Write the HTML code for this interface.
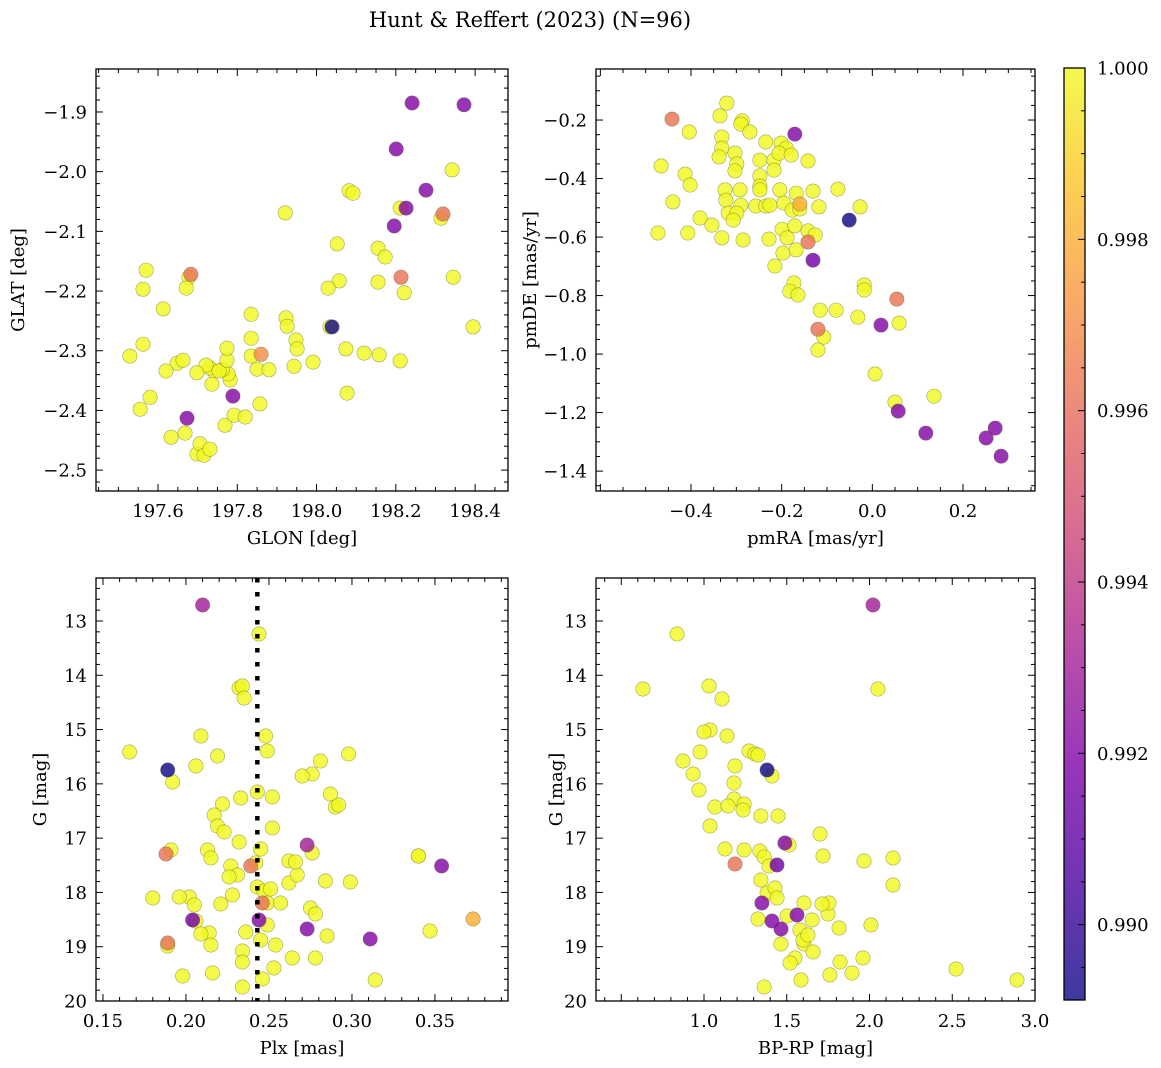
<!DOCTYPE html>
<html><head><meta charset="utf-8">
<style>
html,body{margin:0;padding:0;background:#fff;}
svg{display:block;font-family:"DejaVu Serif","Liberation Serif",serif;}
</style></head>
<body>
<svg id="fig" width="1161" height="1068" viewBox="0 0 1161 1068" xmlns="http://www.w3.org/2000/svg">
<defs>
<linearGradient id="plasma" x1="0" y1="1" x2="0" y2="0">
<stop offset="0" stop-color="#0d0887"/><stop offset="0.13" stop-color="#4c02a1"/><stop offset="0.25" stop-color="#7e03a8"/><stop offset="0.38" stop-color="#a92395"/><stop offset="0.5" stop-color="#cc4778"/><stop offset="0.63" stop-color="#e66c5c"/><stop offset="0.75" stop-color="#f89540"/><stop offset="0.88" stop-color="#fdc527"/><stop offset="1" stop-color="#f0f921"/>
</linearGradient>
</defs>
<text x="530" y="27" font-size="21" text-anchor="middle">Hunt &amp; Reffert (2023) (N=96)</text>
</svg>
<script>
// ---- data: panel 1 (GLON / GLAT) ----
const p1Glon=[198.241,198.372,198.201,198.342,198.276,198.082,198.092,198.226,198.211,198.319,198.314,198.196,198.052,197.921,198.345,198.213,198.155,198.173,198.221,198.057,198.029,198.155,198.395,198.074,198.120,198.158,198.211,198.034,198.039,198.077,197.991,197.948,197.951,197.943,197.923,197.926,197.570,197.562,197.683,197.678,197.671,197.613,197.562,197.529,197.580,197.555,197.673,197.668,197.633,197.698,197.706,197.716,197.731,197.769,197.792,197.820,197.857,197.789,197.782,197.777,197.762,197.741,197.731,197.721,197.698,197.648,197.663,197.620,197.736,197.754,197.774,197.774,197.835,197.835,197.835,197.860,197.850,197.880];
const p1Glat=[-1.885,-1.888,-1.962,-1.997,-2.031,-2.032,-2.036,-2.061,-2.061,-2.071,-2.078,-2.091,-2.121,-2.069,-2.177,-2.177,-2.128,-2.143,-2.203,-2.183,-2.195,-2.185,-2.260,-2.297,-2.304,-2.307,-2.317,-2.260,-2.260,-2.371,-2.319,-2.282,-2.297,-2.326,-2.245,-2.259,-2.165,-2.197,-2.172,-2.177,-2.195,-2.230,-2.289,-2.309,-2.378,-2.398,-2.413,-2.438,-2.445,-2.473,-2.456,-2.475,-2.465,-2.425,-2.408,-2.411,-2.389,-2.376,-2.349,-2.339,-2.332,-2.334,-2.329,-2.324,-2.337,-2.321,-2.316,-2.334,-2.356,-2.334,-2.316,-2.296,-2.279,-2.239,-2.309,-2.306,-2.331,-2.332];
const p1Prob=[0.992,0.992,0.992,1,0.992,1,1,0.992,1,0.9962,1,0.992,1,1,1,0.9962,1,1,1,1,1,1,1,1,1,1,1,1,0.9892,1,1,1,1,1,1,1,1,1,0.9962,1,1,1,1,1,1,1,0.992,1,1,1,1,1,1,1,1,1,1,0.992,1,1,1,1,1,1,1,1,1,1,1,1,1,1,1,1,1,0.997,1,1];
// ---- data: panel 2 (pmRA / pmDE) ----
const p2Pmra=[-0.442,-0.321,-0.336,-0.287,-0.290,-0.404,-0.332,-0.270,-0.332,-0.235,-0.201,-0.190,-0.171,-0.466,-0.413,-0.338,-0.303,-0.299,-0.303,-0.248,-0.217,-0.248,-0.217,-0.206,-0.179,-0.142,-0.402,-0.440,-0.325,-0.292,-0.248,-0.248,-0.204,-0.168,-0.131,-0.076,-0.323,-0.290,-0.257,-0.235,-0.226,-0.195,-0.177,-0.160,-0.160,-0.118,-0.027,-0.051,-0.318,-0.299,-0.380,-0.354,-0.307,-0.407,-0.473,-0.332,-0.285,-0.228,-0.199,-0.188,-0.171,-0.142,-0.142,-0.126,-0.197,-0.215,-0.168,-0.131,-0.173,-0.182,-0.164,-0.115,-0.080,-0.032,-0.018,-0.018,0.054,0.019,0.059,-0.120,-0.107,-0.120,0.006,0.050,0.136,0.057,0.118,0.251,0.271,0.284];
const p2Pmde=[-0.197,-0.142,-0.186,-0.203,-0.214,-0.241,-0.258,-0.241,-0.296,-0.275,-0.279,-0.296,-0.248,-0.357,-0.385,-0.326,-0.313,-0.350,-0.374,-0.337,-0.337,-0.391,-0.371,-0.313,-0.320,-0.340,-0.422,-0.480,-0.439,-0.439,-0.426,-0.439,-0.439,-0.450,-0.443,-0.436,-0.474,-0.491,-0.494,-0.494,-0.491,-0.484,-0.508,-0.487,-0.504,-0.497,-0.497,-0.542,-0.518,-0.518,-0.535,-0.559,-0.542,-0.586,-0.586,-0.603,-0.610,-0.607,-0.573,-0.603,-0.562,-0.579,-0.617,-0.593,-0.655,-0.699,-0.644,-0.679,-0.757,-0.785,-0.798,-0.850,-0.850,-0.874,-0.764,-0.781,-0.812,-0.901,-0.894,-0.915,-0.942,-0.986,-1.068,-1.164,-1.144,-1.195,-1.270,-1.287,-1.253,-1.349];
const p2Prob=[0.9962,1,1,1,1,1,1,1,1,1,1,1,0.992,1,1,1,1,1,1,1,1,1,1,1,1,1,1,1,1,1,1,1,1,1,1,1,1,1,1,1,1,1,1,0.998,1,1,1,0.9892,1,1,1,1,1,1,1,1,1,1,1,1,1,1,0.9962,1,1,1,1,0.9915,1,1,1,1,1,1,1,1,0.9962,0.992,1,0.9962,1,1,1,1,1,0.992,0.992,0.992,0.992,0.992];
// ---- data: panel 3 (Plx / G) ----
const p3Plx=[0.210,0.244,0.232,0.234,0.235,0.166,0.209,0.206,0.189,0.192,0.219,0.248,0.249,0.298,0.281,0.276,0.270,0.233,0.222,0.217,0.219,0.243,0.252,0.287,0.290,0.292,0.340,0.223,0.232,0.252,0.213,0.215,0.188,0.191,0.245,0.242,0.227,0.231,0.239,0.262,0.273,0.276,0.262,0.284,0.299,0.340,0.354,0.226,0.228,0.221,0.243,0.247,0.246,0.249,0.267,0.266,0.275,0.202,0.196,0.180,0.205,0.251,0.257,0.249,0.244,0.206,0.204,0.278,0.273,0.311,0.373,0.347,0.214,0.215,0.189,0.189,0.209,0.236,0.254,0.245,0.234,0.234,0.253,0.278,0.264,0.285,0.198,0.216,0.314,0.234,0.246];
const p3G=[12.705,13.239,14.234,14.197,14.418,15.413,15.118,15.671,15.745,15.966,15.487,15.118,15.395,15.450,15.579,15.818,15.855,16.260,16.371,16.573,16.776,16.150,16.242,16.187,16.426,16.389,17.329,16.887,17.071,16.813,17.218,17.366,17.292,17.218,17.200,17.458,17.513,17.679,17.513,17.421,17.126,17.273,17.826,17.789,17.808,17.329,17.513,17.716,18.047,18.213,17.900,17.973,18.194,18.194,17.679,17.440,18.287,18.084,18.084,18.102,18.231,17.937,18.194,18.600,18.508,18.526,18.508,18.397,18.673,18.858,18.489,18.710,18.747,18.968,18.986,18.931,18.766,18.729,18.968,18.876,19.079,19.281,19.392,19.207,19.207,18.802,19.539,19.484,19.613,19.742,19.595];
const p3Prob=[0.993,1,1,1,1,1,1,1,0.9892,1,1,1,1,1,1,1,1,1,1,1,1,1,1,1,1,1,1,1,1,1,1,1,0.9962,1,1,1,1,1,0.9962,1,0.993,1,1,1,1,1,0.992,1,1,1,1,1,0.9962,1,1,1,1,1,1,1,1,1,1,1,0.992,1,0.9915,1,0.992,0.992,0.998,1,1,1,1,0.9962,1,1,1,1,1,1,1,1,1,1,1,1,1,1,1];
// ---- data: panel 4 (BP-RP / G) ----
const p4Bprp=[2.021,0.837,0.631,1.030,2.051,1.109,1.036,1.139,1.000,0.976,0.873,0.934,0.970,1.272,1.308,1.381,1.326,1.187,1.411,1.181,1.181,1.242,1.066,1.145,1.236,1.036,1.344,1.127,1.242,1.187,1.447,1.701,1.338,1.363,1.489,1.441,1.393,1.514,1.719,2.142,1.967,2.142,1.344,1.381,1.429,1.441,1.326,1.350,1.411,1.465,1.580,1.502,1.749,1.755,1.713,1.604,1.653,1.816,1.562,1.604,1.465,1.550,1.598,1.659,1.520,1.822,1.586,1.761,1.894,1.961,2.009,2.523,2.891,1.363,1.628];
const p4G=[12.705,13.239,14.252,14.197,14.252,14.437,15.008,15.118,15.045,15.413,15.579,15.818,16.113,15.395,15.450,15.745,15.468,15.671,15.855,15.984,16.279,16.371,16.426,16.408,16.481,16.776,16.592,17.200,17.218,17.476,16.592,16.924,17.237,17.347,17.089,17.495,17.513,17.126,17.329,17.366,17.421,17.863,17.771,18.010,17.918,18.102,18.489,18.194,18.526,18.673,18.692,18.434,18.397,18.194,18.213,18.194,18.508,18.655,18.416,18.950,18.950,19.208,18.876,19.097,19.300,19.282,19.613,19.520,19.484,19.208,18.600,19.410,19.613,19.742,18.784];
const p4Prob=[0.993,1,1,1,1,1,1,1,1,1,1,1,1,1,1,0.9892,1,1,1,1,1,1,1,1,1,1,1,1,1,0.9962,1,1,1,1,0.992,0.9915,1,1,1,1,1,1,1,1,1,1,1,0.992,0.992,0.992,1,1,1,1,1,1,1,1,0.992,1,1,1,1,1,1,1,1,1,1,1,1,1,1,1,1];
// ---- colorbar ----
const cbTicks=[0.990,0.992,0.994,0.996,0.998,1.000];
const plxRef=0.243;

const NS="http://www.w3.org/2000/svg";
const svg=document.getElementById('fig');
function mk(tag,attrs,parent){const e=document.createElementNS(NS,tag);for(const k in attrs)e.setAttribute(k,attrs[k]);(parent||svg).appendChild(e);return e;}
const stops=[[0,[13,8,135]],[0.13,[76,2,161]],[0.25,[126,3,168]],[0.38,[169,35,149]],[0.5,[204,71,120]],[0.63,[230,108,92]],[0.75,[248,149,64]],[0.88,[253,197,39]],[1,[240,249,33]]];
function plasma(t){t=Math.max(0,Math.min(1,t));for(let i=1;i<stops.length;i++){if(t<=stops[i][0]){const a=stops[i-1],b=stops[i];const f=(t-a[0])/(b[0]-a[0]);const c=a[1].map((v,j)=>Math.round(v+(b[1][j]-v)*f));return `rgb(${c[0]},${c[1]},${c[2]})`;}}return 'rgb(240,249,33)';}
const CMIN=0.98912,CMAX=1.0;
const FS=18;
function fmt(v,d){const s=Math.abs(v).toFixed(d);return (v<-1e-9?'\u2212':'')+s;}

function panel(cfg){
  const g=mk('g',{});
  
  
  const sx=v=>cfg.L+(v-cfg.xmin)/(cfg.xmax-cfg.xmin)*(cfg.R-cfg.L);
  const sy=v=>cfg.B+(v-cfg.ybot)/(cfg.ytop-cfg.ybot)*(cfg.T-cfg.B);
  const idx=cfg.xs.map((_,i)=>i).sort((a,b)=>cfg.ps[b]-cfg.ps[a]);
  idx.forEach(i=>{
    const c=mk('circle',{cx:sx(cfg.xs[i]).toFixed(1),cy:sy(cfg.ys[i]).toFixed(1),r:7.2,fill:plasma((cfg.ps[i]-CMIN)/(CMAX-CMIN)),'fill-opacity':0.82,stroke:'#6b6b3a','stroke-opacity':0.6,'stroke-width':0.6},g);
    
    
  });
  if(cfg.vline!==undefined){
    const l=mk('line',{x1:sx(cfg.vline),x2:sx(cfg.vline),y1:cfg.T,y2:cfg.B,stroke:'#000','stroke-width':4.5,'stroke-dasharray':'4.5,9.5'},g);
    
    
  }
  const frame=mk('rect',{x:cfg.L,y:cfg.T,width:cfg.R-cfg.L,height:cfg.B-cfg.T,fill:'none',stroke:'#000','stroke-width':1.3},g);
  
  
  const lo=Math.min(cfg.xmin,cfg.xmax),hi=Math.max(cfg.xmin,cfg.xmax);
  for(let k=Math.ceil(lo/cfg.xminor-1e-6);k*cfg.xminor<=hi+1e-9;k++){
    const v=k*cfg.xminor,x=sx(v);
    const major=Math.abs(v/cfg.xmajor-Math.round(v/cfg.xmajor))<1e-6;
    const len=major?7:4;
    mk('line',{x1:x,x2:x,y1:cfg.B,y2:cfg.B-len,stroke:'#000','stroke-width':1},g);
    mk('line',{x1:x,x2:x,y1:cfg.T,y2:cfg.T+len,stroke:'#000','stroke-width':1},g);
  }
  cfg.xticks.forEach(v=>{
    const t=mk('text',{x:sx(v),y:cfg.B+26,'font-size':FS,'text-anchor':'middle'},g);
    t.textContent=fmt(v,cfg.xd);
    
    
  });
  const ylo=Math.min(cfg.ybot,cfg.ytop),yhi=Math.max(cfg.ybot,cfg.ytop);
  for(let k=Math.ceil(ylo/cfg.yminor-1e-6);k*cfg.yminor<=yhi+1e-9;k++){
    const v=k*cfg.yminor,y=sy(v);
    const major=Math.abs(v/cfg.ymajor-Math.round(v/cfg.ymajor))<1e-6;
    const len=major?7:4;
    mk('line',{x1:cfg.L,x2:cfg.L+len,y1:y,y2:y,stroke:'#000','stroke-width':1},g);
    mk('line',{x1:cfg.R,x2:cfg.R-len,y1:y,y2:y,stroke:'#000','stroke-width':1},g);
  }
  cfg.yticks.forEach(v=>{
    const t=mk('text',{x:cfg.L-9,y:sy(v)+6.5,'font-size':FS,'text-anchor':'end'},g);
    t.textContent=fmt(v,cfg.yd);
    
    
  });
  const xl=mk('text',{x:(cfg.L+cfg.R)/2,y:cfg.B+53,'font-size':FS,'text-anchor':'middle'},g);
  xl.textContent=cfg.xlabel;
  
  
  const yx=cfg.ylx,yy=(cfg.T+cfg.B)/2;
  const yl=mk('text',{x:yx,y:yy,'font-size':FS,'text-anchor':'middle',transform:`rotate(-90 ${yx} ${yy})`},g);
  yl.textContent=cfg.ylabel;
  
  
}

panel({name:'glon-glat-panel',L:96,R:508,T:69,B:491,xmin:197.4435,xmax:198.483,ybot:-2.535,ytop:-1.828,
  xs:p1Glon,ys:p1Glat,ps:p1Prob,xmajor:0.2,xminor:0.05,ymajor:0.1,yminor:0.02,
  xticks:[197.6,197.8,198.0,198.2,198.4],yticks:[-1.9,-2.0,-2.1,-2.2,-2.3,-2.4,-2.5],xd:1,yd:1,
  xlabel:'GLON [deg]',ylabel:'GLAT [deg]',ylx:24});
panel({name:'pm-panel',L:596,R:1035,T:69,B:491,xmin:-0.6096,xmax:0.3588,ybot:-1.468,ytop:-0.0256,
  xs:p2Pmra,ys:p2Pmde,ps:p2Prob,xmajor:0.2,xminor:0.05,ymajor:0.2,yminor:0.05,
  xticks:[-0.4,-0.2,0.0,0.2],yticks:[-0.2,-0.4,-0.6,-0.8,-1.0,-1.2,-1.4],xd:1,yd:1,
  xlabel:'pmRA [mas/yr]',ylabel:'pmDE [mas/yr]',ylx:536});
panel({name:'plx-g-panel',L:96,R:508,T:578,B:1001,xmin:0.1458,xmax:0.394,ybot:20,ytop:12.208,
  xs:p3Plx,ys:p3G,ps:p3Prob,xmajor:0.05,xminor:0.01,ymajor:1,yminor:0.2,
  xticks:[0.15,0.20,0.25,0.30,0.35],yticks:[13,14,15,16,17,18,19,20],xd:2,yd:0,
  xlabel:'Plx [mas]',ylabel:'G [mag]',ylx:46,vline:plxRef});
panel({name:'color-magnitude-panel',L:596,R:1035,T:578,B:1001,xmin:0.3474,xmax:3.0,ybot:20,ytop:12.208,
  xs:p4Bprp,ys:p4G,ps:p4Prob,xmajor:0.5,xminor:0.1,ymajor:1,yminor:0.2,
  xticks:[1.0,1.5,2.0,2.5,3.0],yticks:[13,14,15,16,17,18,19,20],xd:1,yd:0,
  xlabel:'BP-RP [mag]',ylabel:'G [mag]',ylx:562});

(function(){
  const g=mk('g',{});
  
  
  const L=1064,R=1085,T=68,B=1000;
  const cy=v=>B-(v-CMIN)/(CMAX-CMIN)*(B-T);
  mk('rect',{x:L,y:T,width:R-L,height:B-T,fill:'url(#plasma)','fill-opacity':0.8},g);
  mk('rect',{x:L,y:T,width:R-L,height:B-T,fill:'none',stroke:'#000','stroke-width':1.3},g);
  for(let k=Math.ceil(CMIN/0.0005);k*0.0005<=CMAX+1e-9;k++){
    const v=k*0.0005,y=cy(v);
    const major=Math.abs(v/0.002-Math.round(v/0.002))<1e-6;
    mk('line',{x1:R,x2:R-(major?7:4),y1:y,y2:y,stroke:'#000','stroke-width':1},g);
  }
  cbTicks.forEach(v=>{
    const t=mk('text',{x:R+12,y:cy(v)+6.5,'font-size':FS},g);
    t.textContent=v.toFixed(3);
    
    
  });
})();
</script>
</body></html>
